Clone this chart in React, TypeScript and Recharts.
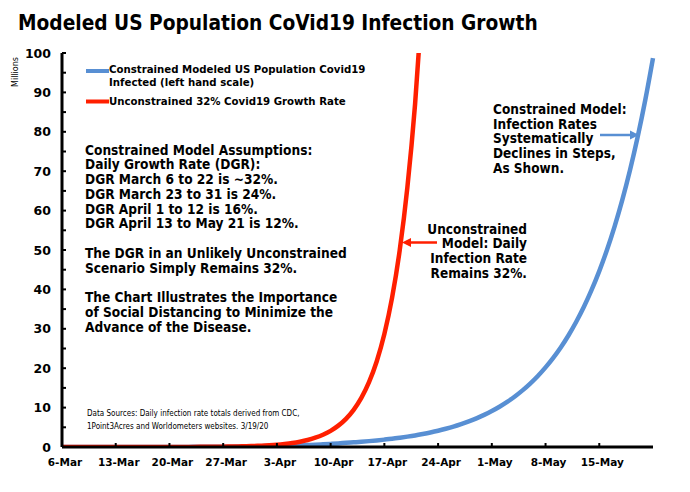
import React from 'react';
import { LineChart, Line, XAxis, YAxis } from 'recharts';

// day 0 = 6-Mar, one value per day (millions)
const constrained = [
  0.0003, 0.0004, 0.0006, 0.0008, 0.001, 0.0013, 0.0017, 0.002, 0.003, 0.004,
  0.005, 0.007, 0.009, 0.011, 0.015, 0.02, 0.026, 0.032, 0.04, 0.049,
  0.061, 0.076, 0.094, 0.116, 0.144, 0.179, 0.208, 0.241, 0.279, 0.324,
  0.376, 0.436, 0.505, 0.586, 0.68, 0.789, 0.915, 1.06, 1.19, 1.33,
  1.49, 1.67, 1.87, 2.09, 2.35, 2.63, 2.94, 3.3, 3.69, 4.13,
  4.63, 5.18, 5.81, 6.5, 7.28, 8.16, 9.14, 10.23, 11.46, 12.83,
  14.37, 16.1, 18.03, 20.2, 22.62, 25.33, 28.37, 31.78, 35.59, 39.86,
  44.65, 50.0, 56.0, 62.72, 70.25, 78.68, 88.13, 98.7,
];

const unconstrained = [
  0.0003, 0.0003, 0.0004, 0.0006, 0.0008, 0.001, 0.0013, 0.0017, 0.002, 0.003,
  0.004, 0.005, 0.007, 0.009, 0.012, 0.016, 0.021, 0.03, 0.04, 0.05,
  0.06, 0.08, 0.11, 0.15, 0.19, 0.26, 0.34, 0.45, 0.59, 0.78,
  1.02, 1.35, 1.78, 2.36, 3.11, 4.1, 5.42, 7.15, 9.44, 12.46,
  16.45, 21.71, 28.66, 37.83, 49.93, 65.91, 87.0, 114.8,
];

const xTickDays = [0, 7, 14, 21, 28, 35, 42, 49, 56, 63, 70];
const xTickLabels = ['6-Mar', '13-Mar', '20-Mar', '27-Mar', '3-Apr', '10-Apr', '17-Apr', '24-Apr', '1-May', '8-May', '15-May'];
const yTicks = [0, 5, 10, 15, 20, 25, 30, 35, 40, 45, 50, 55, 60, 65, 70, 75, 80, 85, 90, 95, 100];

const BLUE = '#588fd3';
const RED = '#ff1f00';
const FONT = '"DejaVu Sans", Verdana, sans-serif';

const chartData = constrained.map((v, i) => ({
  day: i,
  constrained: v,
  unconstrained: i < unconstrained.length ? unconstrained[i] : null,
}));

function YTick(props: any) {
  const { x, y, payload } = props;
  const major = payload.value % 10 === 0;
  return (
    <g>
      <line x1={x} x2={x + 4} y1={y} y2={y} stroke="#000" strokeWidth={2} />
      {major && (
        <text x={x - 11} y={y} dy={4.5} textAnchor="end" fontSize={12.5} fontWeight="bold" fontFamily={FONT} fill="#000">
          {payload.value}
        </text>
      )}
    </g>
  );
}

function XTick(props: any) {
  const { x, y, index } = props;
  return (
    <g>
      <line x1={x} x2={x} y1={y} y2={y - 4} stroke="#000" strokeWidth={2} />
      <text x={x + 3} y={y + 19} textAnchor="middle" fontSize={10.5} fontWeight="bold" fontFamily={FONT} fill="#000">
        {xTickLabels[index]}
      </text>
    </g>
  );
}

const txt: React.CSSProperties = {
  position: 'absolute',
  fontFamily: FONT,
  fontWeight: 'bold',
  color: '#000',
  whiteSpace: 'nowrap',
};

export default function App() {
  return (
    <div style={{ position: 'absolute', left: 0, top: 0, width: 690, height: 492, background: '#fff', overflow: 'hidden' }}>
      <div style={{ ...txt, left: 18, top: 9, fontSize: 20.7, lineHeight: '28px', fontStretch: 'condensed' }}>
        Modeled US Population CoVid19 Infection Growth
      </div>

      <LineChart
        width={690}
        height={492}
        data={chartData}
        margin={{ top: 53, right: 37, bottom: 15, left: 12 }}
      >
        <XAxis
          dataKey="day"
          type="number"
          domain={[0, 77]}
          ticks={xTickDays}
          interval={0}
          height={30}
          tickSize={0}
          tickMargin={0}
          tickLine={false}
          axisLine={{ stroke: '#000', strokeWidth: 3 }}
          tick={<XTick />}
        />
        <YAxis
          type="number"
          domain={[0, 100]}
          allowDataOverflow
          ticks={yTicks}
          interval={0}
          width={50}
          tickSize={0}
          tickMargin={0}
          tickLine={false}
          axisLine={{ stroke: '#000', strokeWidth: 3 }}
          tick={<YTick />}
        />
        <Line
          type="monotone"
          dataKey="constrained"
          stroke={BLUE}
          strokeWidth={4.5}
          dot={false}
          isAnimationActive={false}
        />
        <Line
          type="monotone"
          dataKey="unconstrained"
          stroke={RED}
          strokeWidth={4.5}
          dot={false}
          connectNulls={false}
          isAnimationActive={false}
        />
      </LineChart>

      {/* Millions */}
      <div
        style={{
          position: 'absolute',
          left: 15,
          top: 72,
          transform: 'translate(-50%, -50%) rotate(-90deg)',
          fontFamily: FONT,
          fontSize: 8,
          color: '#000',
        }}
      >
        Millions
      </div>

      {/* legend swatches + arrows */}
      <svg style={{ position: 'absolute', left: 0, top: 0 }} width={690} height={492}>
        <line x1={86} x2={109} y1={71} y2={71} stroke={BLUE} strokeWidth={4} />
        <line x1={86} x2={109} y1={101.5} y2={101.5} stroke={RED} strokeWidth={4} />
        <line x1={600} x2={632} y1={135} y2={135} stroke={BLUE} strokeWidth={2.5} />
        <polygon points="639,135 630,130.5 630,139.5" fill={BLUE} />
        <line x1={437} x2={409} y1={242.5} y2={242.5} stroke={RED} strokeWidth={2.5} />
        <polygon points="402,242.5 411,238 411,247" fill={RED} />
      </svg>
      <div style={{ ...txt, left: 109, top: 64, fontSize: 10.2, lineHeight: '12.5px' }}>
        Constrained Modeled US Population Covid19
        <br />
        Infected (left hand scale)
      </div>
      <div style={{ ...txt, left: 109, top: 95, fontSize: 10.2, lineHeight: '13px' }}>
        Unconstrained 32% Covid19 Growth Rate
      </div>

      {/* assumptions */}
      <div style={{ ...txt, left: 85, top: 142.5, fontSize: 13.6, lineHeight: '14.8px', fontStretch: 'condensed' }}>
        Constrained Model Assumptions:
        <br />
        Daily Growth Rate (DGR):
        <br />
        DGR March 6 to 22 is ~32%.
        <br />
        DGR March 23 to 31 is 24%.
        <br />
        DGR April 1 to 12 is 16%.
        <br />
        DGR April 13 to May 21 is 12%.
        <br />
        <br />
        The DGR in an Unlikely Unconstrained
        <br />
        Scenario Simply Remains 32%.
        <br />
        <br />
        The Chart Illustrates the Importance
        <br />
        of Social Distancing to Minimize the
        <br />
        Advance of the Disease.
      </div>

      {/* right annotations */}
      <div style={{ ...txt, left: 493, top: 102, fontSize: 13.5, lineHeight: '14.7px', fontStretch: 'condensed' }}>
        Constrained Model:
        <br />
        Infection Rates
        <br />
        Systematically
        <br />
        Declines in Steps,
        <br />
        As Shown.
      </div>
      <div style={{ ...txt, right: 690 - 527, top: 221.5, fontSize: 13.5, lineHeight: '14.7px', textAlign: 'right', fontStretch: 'condensed' }}>
        Unconstrained
        <br />
        Model: Daily
        <br />
        Infection Rate
        <br />
        Remains 32%.
      </div>

      {/* sources */}
      <div style={{ ...txt, fontWeight: 'normal', left: 87, top: 408, fontSize: 8, lineHeight: '12.5px', fontStretch: 'condensed' }}>
        Data Sources: Daily infection rate totals derived from CDC,
        <br />
        1Point3Acres and Worldometers websites. 3/19/20
      </div>
    </div>
  );
}
